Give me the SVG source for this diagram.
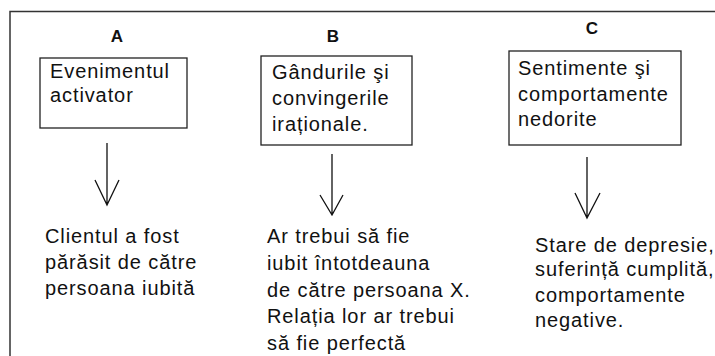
<svg xmlns="http://www.w3.org/2000/svg" width="715" height="356" viewBox="0 0 715 356">
<style>
.frame{fill:none;stroke:#333;stroke-width:1.5}
.box{fill:#fff;stroke:#222;stroke-width:1.3}
.t{font-family:"Liberation Sans",Arial,sans-serif;font-size:20px;fill:#111;letter-spacing:0.9px}
.h{font-family:"Liberation Sans",Arial,sans-serif;font-size:17px;font-weight:bold;fill:#111;text-anchor:middle}
.c{fill:none;stroke:#111;stroke-width:1.3}
</style>
<rect width="715" height="356" fill="#fff"/>
<path class="frame" d="M10,356 V11.5 H715"/>
<g id="labelA"><text class="h" x="117" y="42">A</text></g>
<g id="labelB"><text class="h" x="333" y="42">B</text></g>
<g id="labelC"><text class="h" x="592" y="34">C</text></g>
<g id="nodeA">
<rect class="box" x="40" y="58" width="147" height="70"/>
<text class="t" x="50" y="78">Evenimentul</text>
<text class="t" x="50" y="102">activator</text>
</g>
<g id="nodeB">
<rect class="box" x="261" y="56" width="151" height="89"/>
<text class="t" x="272" y="79">Gândurile şi</text>
<text class="t" x="272" y="105">convingerile</text>
<text class="t" x="272" y="131">iraționale.</text>
</g>
<g id="nodeC">
<rect class="box" x="509" y="51" width="172" height="94"/>
<text class="t" x="518" y="75">Sentimente şi</text>
<text class="t" x="518" y="101">comportamente</text>
<text class="t" x="518" y="126">nedorite</text>
</g>
<g id="textA">
<text class="t" x="45" y="243">Clientul a fost</text>
<text class="t" x="45" y="269">părăsit de către</text>
<text class="t" x="45" y="295">persoana iubită</text>
</g>
<g id="textB">
<text class="t" x="267" y="243">Ar trebui să fie</text>
<text class="t" x="267" y="270">iubit întotdeauna</text>
<text class="t" x="267" y="297">de către persoana X.</text>
<text class="t" x="267" y="323">Relația lor ar trebui</text>
<text class="t" x="267" y="350">să fie perfectă</text>
</g>
<g id="textC">
<text class="t" x="535" y="252">Stare de depresie,</text>
<text class="t" x="535" y="276">suferință cumplită,</text>
<text class="t" x="535" y="302">comportamente</text>
<text class="t" x="535" y="327">negative.</text>
</g>
<g id="connectors">
<path class="c" d="M107,143 V205 M95,180 L107,205 L119,180"/>
<path class="c" d="M332,154 V215 M320,195 L332,215 L343,195"/>
<path class="c" d="M587,157 V218 M575,193 L587,218 L600,193"/>
</g>
</svg>
